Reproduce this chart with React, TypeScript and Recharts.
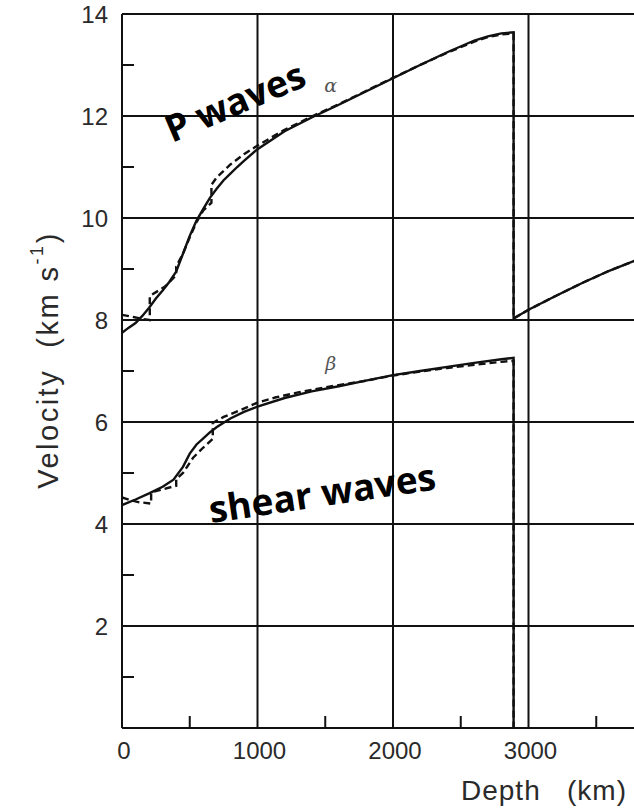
import React from 'react';
import { LineChart, Line, XAxis, YAxis, CartesianGrid, ReferenceDot, Label } from 'recharts';

// Depth (km) and velocity (km/s) samples for each profile
const pSmoothDepth = [0, 50, 100, 150, 200, 250, 300, 350, 400, 450, 500, 550, 600, 650, 700, 750, 800, 850, 900, 1000, 1200, 1400, 1600, 1800, 2000, 2200, 2400, 2600, 2700, 2800, 2890, 2890, 3000, 3200, 3400, 3600, 3800, 4000];
const pSmoothVel = [7.75, 7.85, 7.94, 8.08, 8.24, 8.42, 8.58, 8.75, 8.95, 9.3, 9.65, 9.95, 10.18, 10.4, 10.58, 10.74, 10.87, 11.0, 11.12, 11.35, 11.7, 11.97, 12.22, 12.48, 12.74, 13.0, 13.25, 13.48, 13.56, 13.62, 13.64, 8.03, 8.2, 8.47, 8.73, 8.97, 9.18, 9.38];

const pLayeredDepth = [0, 100, 150, 205, 205, 320, 400, 400, 450, 500, 550, 600, 660, 660, 700, 800, 900, 1000, 1200, 1400, 1600, 1800, 2000, 2200, 2400, 2600, 2700, 2800, 2890, 2890, 3000, 3200, 3400, 3600, 3800, 4000];
const pLayeredVel = [8.1, 8.05, 8.02, 8.0, 8.47, 8.66, 8.88, 9.05, 9.3, 9.62, 9.92, 10.15, 10.3, 10.65, 10.8, 11.05, 11.25, 11.42, 11.73, 11.99, 12.23, 12.49, 12.75, 13.0, 13.24, 13.46, 13.55, 13.6, 13.62, 8.03, 8.2, 8.47, 8.73, 8.97, 9.18, 9.38];

const sSmoothDepth = [0, 100, 200, 300, 380, 450, 500, 550, 600, 650, 700, 800, 900, 1000, 1200, 1400, 1600, 1800, 2000, 2200, 2400, 2600, 2800, 2890, 2890];
const sSmoothVel = [4.37, 4.48, 4.6, 4.73, 4.87, 5.12, 5.38, 5.56, 5.68, 5.8, 5.9, 6.07, 6.2, 6.3, 6.47, 6.6, 6.7, 6.81, 6.92, 7.0, 7.08, 7.16, 7.23, 7.26, 0];

const sLayeredDepth = [0, 60, 120, 215, 215, 300, 400, 400, 450, 525, 600, 670, 670, 750, 880, 1000, 1130, 1300, 1500, 1800, 2000, 2200, 2400, 2600, 2800, 2890, 2890];
const sLayeredVel = [4.52, 4.47, 4.43, 4.4, 4.62, 4.68, 4.75, 4.88, 5.0, 5.3, 5.5, 5.67, 5.98, 6.1, 6.24, 6.38, 6.48, 6.58, 6.68, 6.81, 6.91, 6.99, 7.06, 7.12, 7.18, 7.2, 0];

const xTicks = [0, 500, 1000, 1500, 2000, 2500, 3000, 3500];
const xMinorTicks = [500, 1500, 2500, 3500];
const yTicks = [0, 1, 2, 3, 4, 5, 6, 7, 8, 9, 10, 11, 12, 13, 14];
const gridDepths = [1000, 2000, 3000];
const gridVelocities = [2, 4, 6, 8, 10, 12, 14];

const toRows = (depth: number[], vel: number[]) => depth.map((d, i) => ({ depth: d, v: vel[i] }));

const INK = '#111';
const TEXT = '#2a2a2a';
const SANS = '"Liberation Sans", Arial, Helvetica, sans-serif';
const BOLD = '"Open Sans", "Noto Sans", sans-serif';
const LINE_W = 2.4;

const Y_MARGIN = 12;

const YTick = (props: any) => {
  const { x, y, payload } = props;
  const v = payload.value as number;
  const axisX = x + Y_MARGIN;
  if (v % 2 === 1) {
    return <line x1={axisX} x2={axisX + 12} y1={y} y2={y} stroke={INK} strokeWidth={2} />;
  }
  if (v === 0) return <g />;
  return (
    <text x={axisX - 14} y={y + 8.5} textAnchor="end" fontSize={24} fontFamily={SANS} fill={TEXT}>
      {v}
    </text>
  );
};

const XTickBottom = (props: any) => {
  const { x, y, payload } = props;
  const v = payload.value as number;
  if (xMinorTicks.includes(v)) {
    return <line x1={x} x2={x} y1={y} y2={y - 12} stroke={INK} strokeWidth={2} />;
  }
  return (
    <text x={x + 2} y={y + 31} textAnchor="middle" fontSize={24} fontFamily={SANS} fill={TEXT}>
      {v}
    </text>
  );
};

const XTickTop = (props: any) => {
  const { x, y } = props;
  return <line x1={x} x2={x} y1={y} y2={y + 12} stroke={INK} strokeWidth={2} />;
};

const rotatedText = (text: string, angle: number, size: number, family: string, weight: number, style: string, fill: string) =>
  (props: any) => {
    const vb = props.viewBox || {};
    const cx = (vb.x ?? 0) + (vb.width ?? 0) / 2;
    const cy = (vb.y ?? 0) + (vb.height ?? 0) / 2;
    return (
      <text
        x={cx}
        y={cy}
        textAnchor="middle"
        dominantBaseline="central"
        transform={`rotate(${angle} ${cx} ${cy})`}
        fontSize={size}
        fontFamily={family}
        fontWeight={weight}
        fontStyle={style}
        fill={fill}
      >
        {text}
      </text>
    );
  };

const VelocityTitle = () => (
  <text
    x={48}
    y={360}
    transform="rotate(-90 48 360)"
    textAnchor="middle"
    dominantBaseline="central"
    fontSize={29}
    fontFamily={SANS}
    fill={TEXT}
    letterSpacing={2.5}
    style={{ whiteSpace: 'pre' }}
  >
    {'Velocity  (km s'}
    <tspan dy={-11} fontSize={18}>-1</tspan>
    <tspan dy={11}>)</tspan>
  </text>
);

const DepthTitle = () => (
  <text
    x={544}
    y={800}
    textAnchor="middle"
    fontSize={28}
    fontFamily={SANS}
    fill={TEXT}
    letterSpacing={1}
    style={{ whiteSpace: 'pre' }}
  >
    {'Depth   (km)'}
  </text>
);

export default function App() {
  return (
    <div style={{ position: 'absolute', left: 0, top: 0, width: 634, height: 810, overflow: 'hidden', background: '#fff' }}>
      <LineChart width={700} height={810} margin={{ top: 14, right: 36, bottom: 0, left: 0 }}>
        <CartesianGrid
          horizontalValues={gridVelocities}
          verticalValues={gridDepths}
          stroke={INK}
          strokeWidth={2}
        />
        <XAxis
          dataKey="depth"
          type="number"
          domain={[0, 4000]}
          ticks={xTicks}
          allowDataOverflow
          height={82}
          tickSize={0}
          tickMargin={0}
          axisLine={{ stroke: INK, strokeWidth: 2 }}
          tickLine={false}
          tick={<XTickBottom />}
          interval={0}
        >
          <Label content={<DepthTitle />} />
        </XAxis>
        <XAxis
          xAxisId="top"
          orientation="top"
          dataKey="depth"
          type="number"
          domain={[0, 4000]}
          ticks={xMinorTicks}
          height={0}
          tickSize={0}
          tickMargin={0}
          axisLine={false}
          tickLine={false}
          tick={<XTickTop />}
          interval={0}
        />
        <YAxis
          type="number"
          domain={[0, 14]}
          ticks={yTicks}
          width={122}
          tickSize={0}
          tickMargin={Y_MARGIN}
          axisLine={{ stroke: INK, strokeWidth: 2 }}
          tickLine={false}
          tick={<YTick />}
          interval={0}
        >
          <Label content={<VelocityTitle />} />
        </YAxis>

        <Line data={toRows(pSmoothDepth, pSmoothVel)} dataKey="v" type="linear" stroke={INK} strokeWidth={LINE_W} dot={false} isAnimationActive={false} />
        <Line data={toRows(pLayeredDepth, pLayeredVel)} dataKey="v" type="linear" stroke={INK} strokeWidth={LINE_W} strokeDasharray="7 4" dot={false} isAnimationActive={false} />
        <Line data={toRows(sSmoothDepth, sSmoothVel)} dataKey="v" type="linear" stroke={INK} strokeWidth={LINE_W} dot={false} isAnimationActive={false} />
        <Line data={toRows(sLayeredDepth, sLayeredVel)} dataKey="v" type="linear" stroke={INK} strokeWidth={LINE_W} strokeDasharray="7 4" dot={false} isAnimationActive={false} />

        <ReferenceDot x={830} y={12.3} r={0} label={rotatedText('P waves', -23, 37, BOLD, 700, 'normal', '#000')} />
        <ReferenceDot x={1476} y={4.63} r={0} label={rotatedText('shear waves', -8.5, 37, BOLD, 700, 'normal', '#000')} />
        <ReferenceDot x={1540} y={12.6} r={0} label={rotatedText('α', 0, 19, '"DejaVu Serif", serif', 400, 'italic', '#555')} />
        <ReferenceDot x={1540} y={7.16} r={0} label={rotatedText('β', 0, 19, '"DejaVu Serif", serif', 400, 'italic', '#555')} />
      </LineChart>
    </div>
  );
}
